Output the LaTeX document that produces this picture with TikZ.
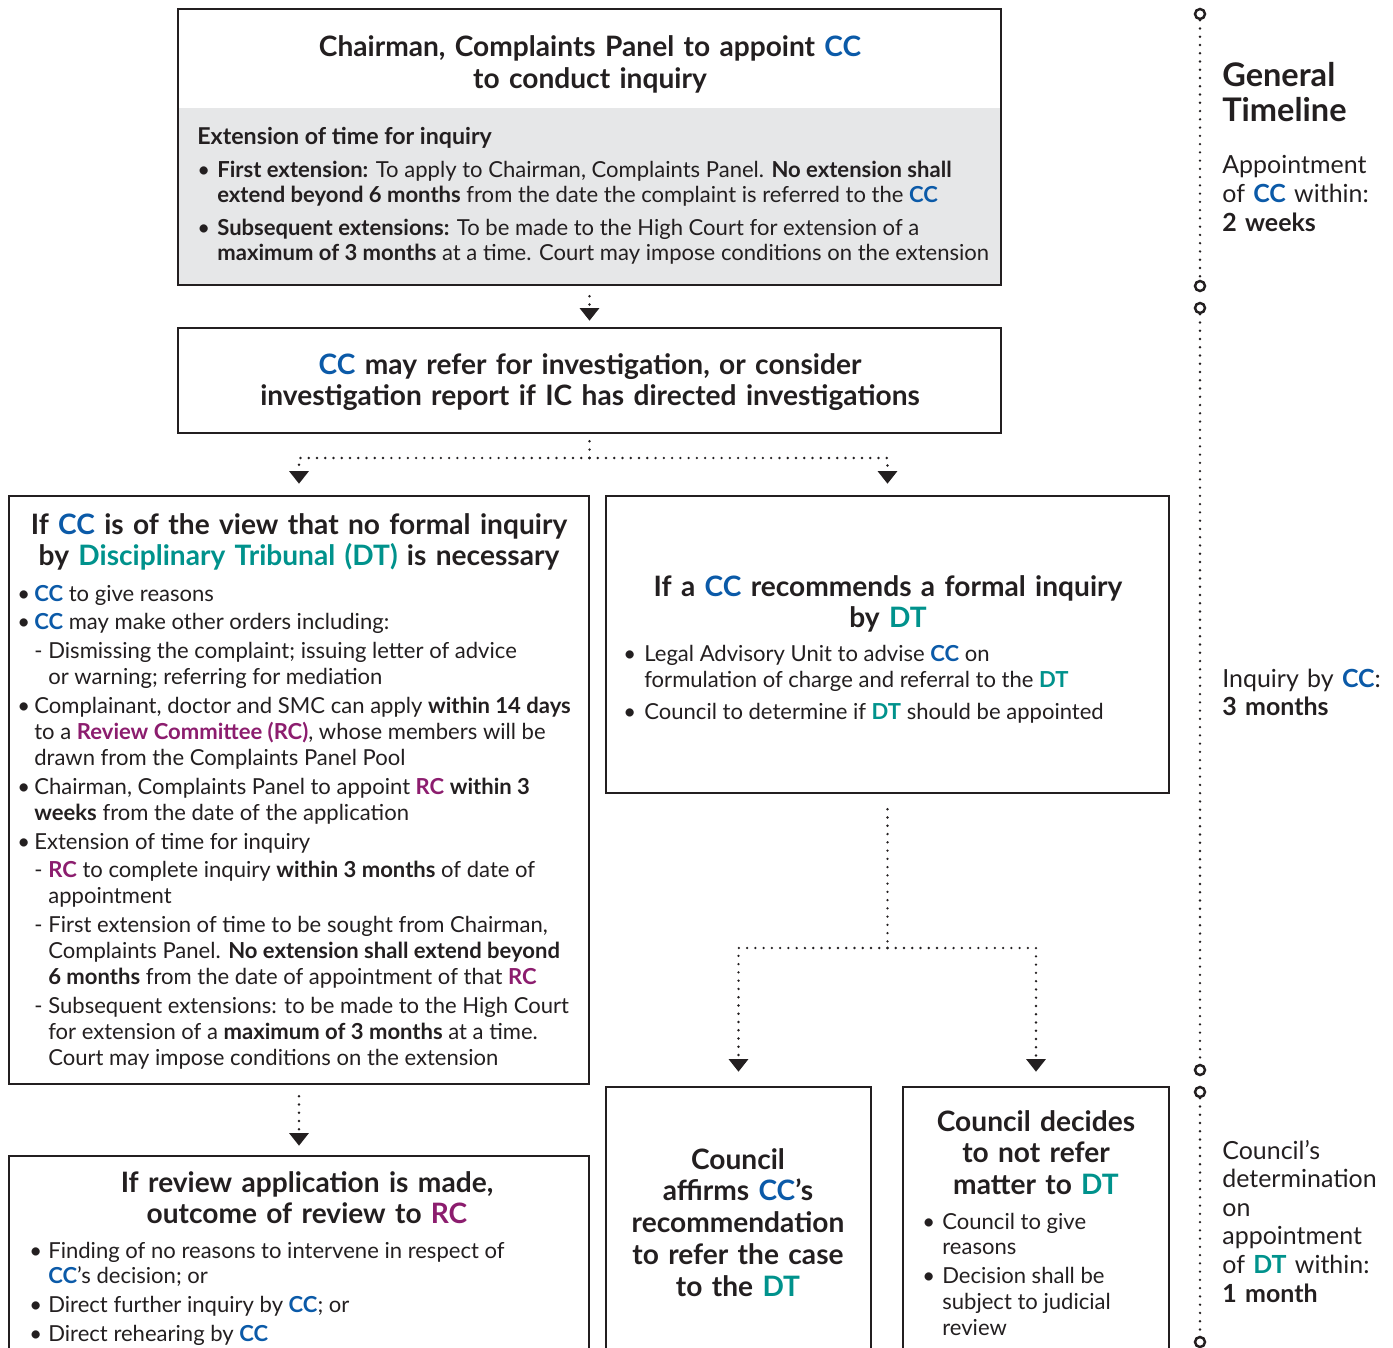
\documentclass[tikz,border=0pt]{standalone}
\usepackage{fontspec}
\setmainfont{Lato}
\usepackage{xcolor}
\usetikzlibrary{arrows.meta,calc,positioning}

\definecolor{ccblue}{HTML}{0B5AA8}
\definecolor{dtteal}{HTML}{00928C}
\definecolor{rcplum}{HTML}{8C1D6E}
\definecolor{boxgrey}{HTML}{E6E7E8}
\definecolor{ink}{HTML}{231F20}

% coloured short names
\newcommand{\CC}{\textbf{\color{ccblue}CC}}
\newcommand{\DT}{\textbf{\color{dtteal}DT}}
\newcommand{\RC}{\textbf{\color{rcplum}RC}}

% fonts
\newcommand{\headfont}{\fontsize{16}{18.14}\selectfont\bfseries}
\newcommand{\bodyfont}{\fontsize{12.55}{14.74}\selectfont}
\newcommand{\tlbig}{\fontsize{18.5}{19.84}\selectfont\bfseries}
\newcommand{\tlfont}{\fontsize{14.2}{16.3}\selectfont}

% list items
\newlength\bulw
\setlength\bulw{0.34cm}
\newcommand{\itm}{\par\hangindent=\bulw\hangafter=1\noindent\makebox[\bulw][l]{\textbullet}}
\newcommand{\subitm}{\par\hangindent=0.62cm\hangafter=1\noindent\hspace{0.34cm}\makebox[0.28cm][l]{-}}
\newcommand{\blist}[3]{\begin{minipage}[t]{#1}\raggedright\let\\\newline\setlength\parskip{#2}#3\end{minipage}}

\begin{document}
\begin{tikzpicture}[x=0.02cm,y=-0.02cm,text=ink,
  box/.style={draw=ink,line width=1.5pt,inner sep=0pt},
  head/.style={font=\headfont,align=center,anchor=base},
  body/.style={font=\bodyfont,anchor=base west,inner sep=0pt},
  dotline/.style={draw=ink,line width=1.5pt,line cap=round,dash pattern=on 0pt off 4.7pt},
  flow/.style={dotline,-{Triangle[width=0.38cm,length=0.25cm]}},
  tick/.style={circle,draw=ink,line width=1.4pt,minimum size=0.2cm,inner sep=0pt,fill=white},
  tline/.style={font=\tlfont,text width=3.4cm,align=left,anchor=base west,inner sep=0pt}]

\clip (0,0) rectangle (1393,1348);

% boxes
\fill[boxgrey] (178,108) rectangle (1001,285);
\node[box,minimum width=16.46cm,minimum height=5.52cm] (appoint) at (589.5,147) {};
\node[box,minimum width=16.46cm,minimum height=2.1cm] (refer) at (589.5,380.5) {};
\node[box,minimum width=11.6cm,minimum height=11.76cm] (noinq) at (299,790) {};
\node[box,minimum width=11.26cm,minimum height=5.94cm] (formal) at (887.5,644.5) {};
\node[box,minimum width=11.6cm,minimum height=4.48cm] (review) at (299,1268) {};
\node[box,minimum width=5.3cm,minimum height=5.86cm] (affirm) at (738.5,1233.5) {};
\node[box,minimum width=5.32cm,minimum height=5.86cm] (norefer) at (1036,1233.5) {};

% box texts
\node[head,text width=16cm] (appointH) at (590,57) {Chairman, Complaints Panel to appoint \CC\\to conduct inquiry};
\node[body,font=\fontsize{13.2}{15}\selectfont\bfseries] (extH) at (197,145) {Extension of time for inquiry};
\node[body] (extL) at (197,178) {\blist{16cm}{0.16cm}{\setlength\bulw{0.4cm}\fontsize{12.55}{14.2}\selectfont
  \itm\textbf{First extension:} To apply to Chairman, Complaints Panel. \textbf{No extension shall}\\\textbf{extend beyond 6 months} from the date the complaint is referred to the \CC
  \itm\textbf{Subsequent extensions:} To be made to the High Court for extension of a\\\textbf{maximum of 3 months} at a time. Court may impose conditions on the extension}};

\node[head,text width=16cm] (referH) at (590,374) {\CC{} may refer for investigation, or consider\\investigation report if IC has directed investigations};

\node[head,text width=11.4cm] (noinqH) at (299,534) {If \CC{} is of the view that no formal inquiry\\by {\color{dtteal}Disciplinary Tribunal (DT)} is necessary};
\node[body] (noinqL) at (17,601) {\blist{11.4cm}{0.06cm}{%
  \itm\CC{} to give reasons
  \itm\CC{} may make other orders including:
  \subitm Dismissing the complaint; issuing letter of advice\\or warning; referring for mediation
  \itm Complainant, doctor and SMC can apply \textbf{within 14 days}\\to a \textbf{\color{rcplum}Review Committee (RC)}, whose members will be\\drawn from the Complaints Panel Pool
  \itm Chairman, Complaints Panel to appoint \RC{} \textbf{within 3}\\\textbf{weeks} from the date of the application
  \itm Extension of time for inquiry
  \subitm\RC{} to complete inquiry \textbf{within 3 months} of date of\\appointment
  \subitm First extension of time to be sought from Chairman,\\Complaints Panel. \textbf{No extension shall extend beyond}\\\textbf{6 months} from the date of appointment of that \RC
  \subitm Subsequent extensions: to be made to the High Court\\for extension of a \textbf{maximum of 3 months} at a time.\\Court may impose conditions on the extension}};

\node[head,text width=11cm] (formalH) at (888,596) {If a \CC{} recommends a formal inquiry\\by \DT};
\node[body] (formalL) at (623,661) {\blist{11cm}{0.1cm}{\setlength\bulw{0.42cm}\fontsize{12.55}{15.3}\selectfont
  \itm Legal Advisory Unit to advise \CC{} on\\formulation of charge and referral to the \DT
  \itm Council to determine if \DT{} should be appointed}};

\node[head,text width=11.4cm] (reviewH) at (307,1192) {If review application is made,\\outcome of review to {\color{rcplum}RC}};
\node[body] (reviewL) at (29,1258) {\blist{11.4cm}{0.06cm}{\setlength\bulw{0.38cm}%
  \itm Finding of no reasons to intervene in respect of\\\CC’s decision; or
  \itm Direct further inquiry by \CC; or
  \itm Direct rehearing by \CC}};

\node[head,text width=5.2cm] (affirmH) at (738,1169) {Council\\affirms \CC’s\\recommendation\\to refer the case\\to the \DT};

\node[head,text width=5.2cm] (noreferH) at (1036,1131) {Council decides\\to not refer\\matter to \DT};
\node[body] (noreferL) at (922,1229) {\blist{5cm}{0.06cm}{\setlength\bulw{0.4cm}%
  \itm Council to give\\reasons
  \itm Decision shall be\\subject to judicial\\review}};

% connectors
\coordinate (split1) at (589.5,458);
\coordinate (split2) at (887.5,948);
\draw[flow,shorten >=0.12cm] ([yshift=-0.2cm]appoint.south) -- (refer.north);
\draw[dotline] ([yshift=-0.14cm]refer.south) -- (split1);
\draw[flow,shorten >=0.22cm] (split1) -| (noinq.north);
\draw[flow,shorten >=0.22cm] (split1) -| (formal.north);
\draw[dotline] ([yshift=-0.3cm]formal.south) -- (split2);
\draw[flow,shorten >=0.28cm] (split2) -| (affirm.north);
\draw[flow,shorten >=0.28cm] (split2) -| (norefer.north);
\draw[flow,shorten >=0.18cm] ([yshift=-0.22cm]noinq.south) -- (review.north);

% timeline
\foreach \n/\y in {0/14,1/286,2/308,3/1070,4/1092,5/1342}
  \node[tick] (t\n) at (1200,\y) {};
\draw[dotline] (t0) -- (t1);
\draw[dotline] (t2) -- (t3);
\draw[dotline] (t4) -- (t5);

\node[tline,font=\tlbig] (tlH) at (1222,87) {General\\Timeline};
\node[tline] (tlA) at (1222,174) {Appointment\\of \CC{} within:\\\textbf{2 weeks}};
\node[tline] (tlB) at (1222,687) {Inquiry by \CC:\\\textbf{3 months}};
\node[tline] (tlC) at (1222,1159) {Council’s\\determination\\on\\appointment\\of \DT{} within:\\\textbf{1 month}};
\end{tikzpicture}
\end{document}
